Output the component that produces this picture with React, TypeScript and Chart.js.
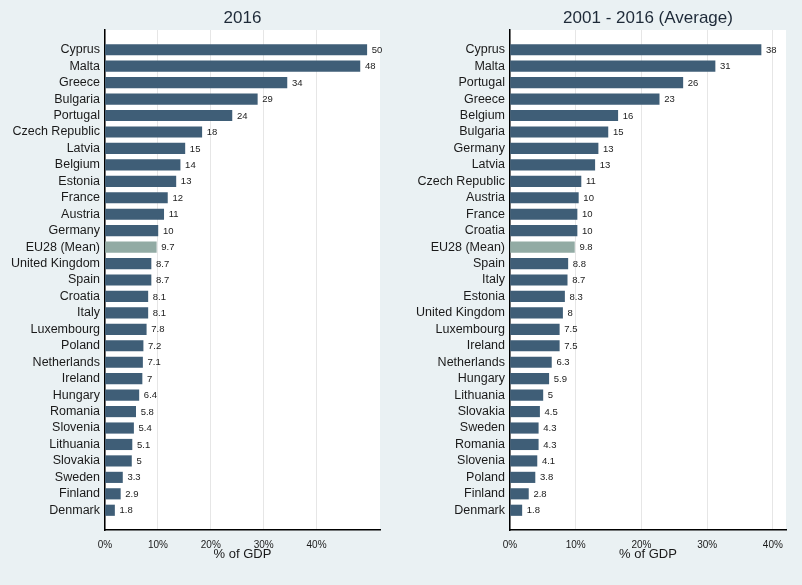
import { useEffect, useRef } from 'react';
import { Chart, registerables } from 'chart.js';

Chart.register(...registerables);

const countries2016 = [
  'Cyprus', 'Malta', 'Greece', 'Bulgaria', 'Portugal', 'Czech Republic', 'Latvia', 'Belgium',
  'Estonia', 'France', 'Austria', 'Germany', 'EU28 (Mean)', 'United Kingdom', 'Spain', 'Croatia',
  'Italy', 'Luxembourg', 'Poland', 'Netherlands', 'Ireland', 'Hungary', 'Romania', 'Slovenia',
  'Lithuania', 'Slovakia', 'Sweden', 'Finland', 'Denmark',
];
const values2016 = [
  49.5, 48.2, 34.4, 28.8, 24, 18.3, 15.1, 14.2, 13.4, 11.8, 11.1, 10, 9.7, 8.7, 8.7, 8.1, 8.1,
  7.8, 7.2, 7.1, 7, 6.4, 5.8, 5.4, 5.1, 5, 3.3, 2.9, 1.8,
];

const countriesAvg = [
  'Cyprus', 'Malta', 'Portugal', 'Greece', 'Belgium', 'Bulgaria', 'Germany', 'Latvia',
  'Czech Republic', 'Austria', 'France', 'Croatia', 'EU28 (Mean)', 'Spain', 'Italy', 'Estonia',
  'United Kingdom', 'Luxembourg', 'Ireland', 'Netherlands', 'Hungary', 'Lithuania', 'Slovakia',
  'Sweden', 'Romania', 'Slovenia', 'Poland', 'Finland', 'Denmark',
];
const valuesAvg = [
  38.2, 31.2, 26.3, 22.7, 16.4, 14.9, 13.4, 12.9, 10.8, 10.4, 10.2, 10.2, 9.8, 8.8, 8.7, 8.3, 8,
  7.5, 7.5, 6.3, 5.9, 5, 4.5, 4.3, 4.3, 4.1, 3.8, 2.8, 1.8,
];

const xTickValues = [0, 10, 20, 30, 40];
const title2016 = '2016';
const titleAvg = '2001 - 2016 (Average)';
const xAxisTitle = '% of GDP';
const meanLabel = 'EU28 (Mean)';

const FONT = '"Liberation Sans", Arial, Helvetica, sans-serif';
const BAR = '#3f5e77';
const MEAN = '#92aba4';
const BG = '#eaf1f3';

// two significant digits, like the source's value labels
const fmt = (v: number) => String(Number(v.toPrecision(2)));

type PanelOpts = {
  title: string;
  labels: string[];
  values: number[];
  xMax: number;
  yWidth: number;
  padRight: number;
};

function makeChart(canvas: HTMLCanvasElement, o: PanelOpts) {
  const n = o.labels.length;
  const bgPlugin = {
    id: 'plotBg',
    beforeDraw(chart: any) {
      const { ctx, chartArea: a } = chart;
      ctx.save();
      ctx.fillStyle = '#ffffff';
      ctx.fillRect(a.left, a.top, a.right - a.left, a.bottom - a.top);
      ctx.restore();
    },
  };
  const titlePlugin = {
    id: 'panelTitle',
    afterDraw(chart: any) {
      const { ctx, chartArea: a } = chart;
      ctx.save();
      ctx.font = `17px ${FONT}`;
      ctx.fillStyle = '#1e2a38';
      ctx.textAlign = 'center';
      ctx.textBaseline = 'middle';
      ctx.fillText(o.title, (a.left + a.right) / 2, 18);
      ctx.restore();
    },
  };
  const valuePlugin = {
    id: 'valueLabels',
    afterDatasetsDraw(chart: any) {
      const { ctx } = chart;
      const meta = chart.getDatasetMeta(0);
      ctx.save();
      ctx.font = `9.5px ${FONT}`;
      ctx.fillStyle = '#222222';
      ctx.textAlign = 'left';
      ctx.textBaseline = 'middle';
      meta.data.forEach((bar: any, i: number) => {
        ctx.fillText(fmt(o.values[i]), bar.x + 5, bar.y + 0.5);
      });
      ctx.restore();
    },
  };

  return new Chart(canvas, {
    type: 'bar',
    data: {
      datasets: [
        {
          data: o.values.map((v, i) => ({ x: v, y: i })),
          backgroundColor: o.labels.map((l) => (l === meanLabel ? MEAN : BAR)),
          borderWidth: 0,
          barThickness: 10.5,
        },
      ],
    },
    options: {
      indexAxis: 'y',
      responsive: false,
      animation: false,
      devicePixelRatio: 1,
      layout: { padding: { left: 0, right: o.padRight, top: 30, bottom: 0 } },
      plugins: { legend: { display: false }, tooltip: { enabled: false }, title: { display: false } },
      scales: {
        y: {
          type: 'linear',
          reverse: true,
          offset: false,
          min: -1.2,
          max: n - 1 + 1.2,
          afterBuildTicks: (s: any) => {
            s.ticks = o.labels.map((_, i) => ({ value: i }));
          },
          afterFit: (s: any) => {
            s.width = o.yWidth;
          },
          ticks: {
            autoSkip: false,
            padding: 5,
            color: '#1a1a1a',
            font: { family: FONT, size: 12.5 },
            callback: (v: any) => o.labels[v as number] ?? '',
          },
          grid: { display: false, drawTicks: false, offset: false },
          border: { display: true, color: '#000000', width: 1.5 },
        },
        x: {
          type: 'linear',
          min: 0,
          max: o.xMax,
          afterBuildTicks: (s: any) => {
            s.ticks = xTickValues.map((v) => ({ value: v }));
          },
          afterFit: (s: any) => {
            s.height = 55;
          },
          ticks: {
            padding: 9,
            color: '#1a1a1a',
            font: { family: FONT, size: 10 },
            callback: (v: any) => `${v}%`,
          },
          grid: { color: '#e6e6e6', lineWidth: 1, drawTicks: false },
          border: { display: true, color: '#000000', width: 1.5 },
          title: {
            display: true,
            text: xAxisTitle,
            color: '#1a1a1a',
            font: { family: FONT, size: 13 },
            padding: { top: 0, bottom: 23 },
          },
        },
      },
    },
    plugins: [bgPlugin, valuePlugin, titlePlugin],
  } as any);
}

export default function App() {
  const leftRef = useRef<HTMLCanvasElement>(null);
  const rightRef = useRef<HTMLCanvasElement>(null);

  useEffect(() => {
    document.body.style.margin = '0';
    const c1 = makeChart(leftRef.current!, {
      title: title2016,
      labels: countries2016,
      values: values2016,
      xMax: 52,
      yWidth: 105,
      padRight: 20,
    });
    const c2 = makeChart(rightRef.current!, {
      title: titleAvg,
      labels: countriesAvg,
      values: valuesAvg,
      xMax: 42,
      yWidth: 110,
      padRight: 16,
    });
    return () => {
      c1.destroy();
      c2.destroy();
    };
  }, []);

  return (
    <div style={{ width: 802, height: 585, background: BG, display: 'flex' }}>
      <canvas ref={leftRef} width={400} height={585} style={{ width: 400, height: 585, display: 'block' }} />
      <canvas ref={rightRef} width={402} height={585} style={{ width: 402, height: 585, display: 'block' }} />
    </div>
  );
}
